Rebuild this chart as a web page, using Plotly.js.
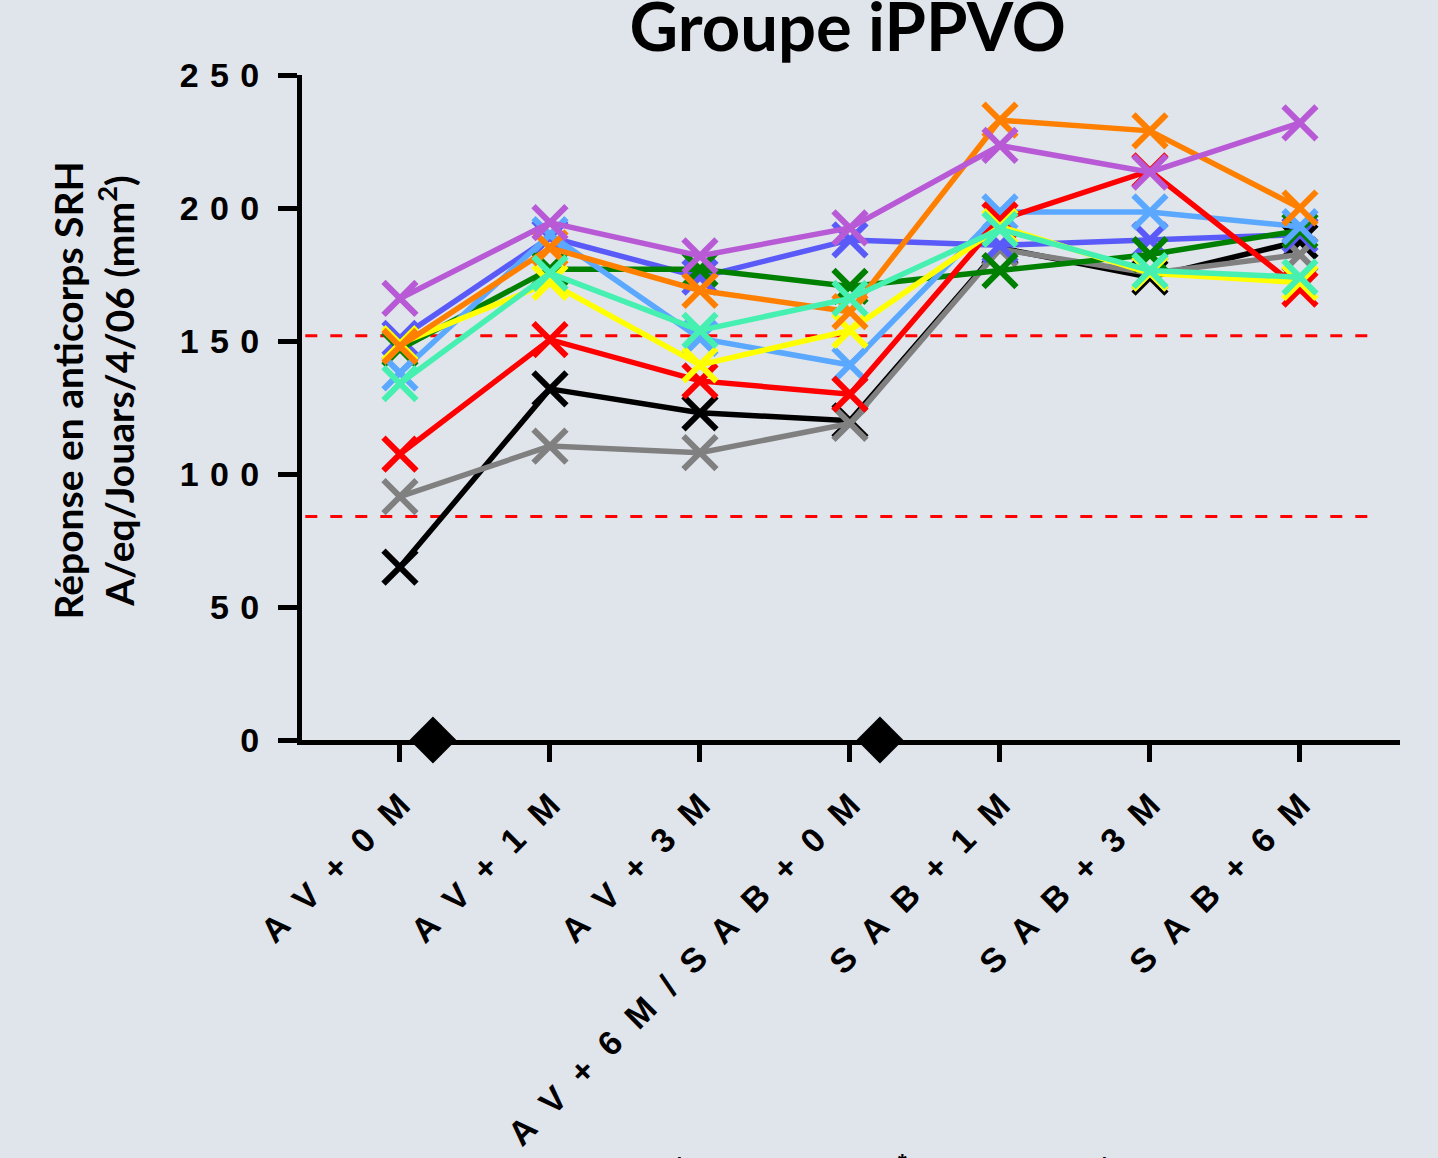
<!DOCTYPE html>
<html>
<head>
<meta charset="utf-8">
<script src="https://cdn.plot.ly/plotly-3.0.1.min.js"></script>
<style>html,body{margin:0;padding:0;background:#e0e4eb;}#chart{width:1438px;height:1158px;}</style>
</head>
<body>
<div id="chart"></div>
<script>
// ---- data ----
const categories = ['AV + 0M', 'AV + 1M', 'AV + 3M', 'AV + 6M / SAB + 0M', 'SAB + 1M', 'SAB + 3M', 'SAB + 6M'];
const yTickValues = [0, 50, 100, 150, 200, 250];
const yTickLabels = ['0', '50', '100', '150', '200', '250'];
const thresholds = [152, 84];
const diamondX = [0.22, 3.2];
const diamondY = [0, 0];

const seriesBlack     = [65, 132, 123, 120, 185, 174, 187.5];
const seriesGray      = [91.5, 110.5, 108, 119, 184.5, 175.5, 182.5];
const seriesBlue      = [151, 189, 174, 188, 186, 188, 190];
const seriesGreen     = [147, 177, 177, 170.5, 176.5, 182.5, 191.5];
const seriesLightBlue = [138, 190, 151, 141, 198.5, 198.5, 193];
const seriesRed       = [107.5, 150.5, 135, 130, 195.5, 214, 169.5];
const seriesYellow    = [149, 172, 141, 154, 193, 175.5, 172];
const seriesOrange    = [148, 185, 169, 161, 233, 229, 200];
const seriesPurple    = [166, 194.5, 182, 192.5, 223.5, 213.5, 232];
const seriesAqua      = [134, 175.5, 154, 166, 192, 176.5, 174];

const seriesList = [
  {y: seriesBlack, color: '#000000'},
  {y: seriesGray, color: '#808080'},
  {y: seriesBlue, color: '#5a5af8'},
  {y: seriesGreen, color: '#008000'},
  {y: seriesLightBlue, color: '#5aa8ff'},
  {y: seriesRed, color: '#ff0000'},
  {y: seriesYellow, color: '#ffff00'},
  {y: seriesOrange, color: '#ff8000'},
  {y: seriesPurple, color: '#b859d6'},
  {y: seriesAqua, color: '#45f0b0'}
];

// ---- build ----
const xIdx = categories.map((c, i) => i);
const spacedX = s => s.replace(/ /g, '').split('').join('\u2002\u200A');
const spacedY = s => s.split('').join('\u2004');

const traces = seriesList.map(s => ({
  type: 'scatter', mode: 'lines+markers',
  x: xIdx, y: s.y,
  line: {color: s.color, width: 5.5},
  marker: {symbol: 'x-thin', size: 33, color: s.color, line: {color: s.color, width: 6}},
  cliponaxis: false, showlegend: false, hoverinfo: 'skip'
}));

traces.push({
  type: 'scatter', mode: 'markers', x: diamondX, y: diamondY,
  marker: {symbol: 'diamond', size: 36, color: '#000000'},
  cliponaxis: false, showlegend: false, hoverinfo: 'skip'
});

const shapes = thresholds.map(t => ({
  type: 'line', xref: 'paper', yref: 'y', x0: 0.003, x1: 0.982, y0: t, y1: t,
  line: {color: '#ff0000', width: 3, dash: '12px,13px'}, layer: 'below'
}));

const layout = {
  width: 1438, height: 1158,
  paper_bgcolor: '#e0e4eb', plot_bgcolor: '#e0e4eb',
  margin: {l: 302, r: 38, t: 75, b: 418},
  title: {
    text: 'Groupe iPPVO', x: 0.497, xref: 'paper', y: 0.976, yref: 'container',
    xanchor: 'center', yanchor: 'middle',
    font: {family: 'Lato', size: 67, color: '#000000', weight: 'bold'}
  },
  xaxis: {
    range: [-0.653, 6.667], tickmode: 'array', tickvals: xIdx,
    ticktext: categories.map(spacedX), tickangle: -45,
    tickfont: {family: 'Liberation Sans', size: 34, color: '#000000', weight: 'bold'},
    ticks: 'outside', ticklen: 17, tickwidth: 5, tickcolor: '#000000',
    showline: true, linewidth: 5, linecolor: '#000000',
    showgrid: false, zeroline: false, ticklabelstandoff: 10
  },
  yaxis: {
    range: [0, 250], tickmode: 'array', tickvals: yTickValues,
    ticktext: yTickLabels.map(spacedY),
    tickfont: {family: 'Liberation Sans', size: 34, color: '#000000', weight: 'bold'},
    ticks: 'outside', ticklen: 19, tickwidth: 5, tickcolor: '#000000',
    showline: true, linewidth: 5, linecolor: '#000000',
    showgrid: false, zeroline: false, ticklabelstandoff: 12
  },
  shapes: shapes,
  annotations: [
    {
      text: 'Réponse en anticorps SRH<br>A/eq/Jouars/4/06 (mm<sup>2</sup>)',
      xref: 'paper', yref: 'paper', x: -0.19, y: 0.526,
      xanchor: 'center', yanchor: 'middle', textangle: -90, showarrow: false,
      font: {family: 'Lato', size: 39, color: '#000000', weight: 'bold'}
    },
    {text: '*', xref: 'paper', yref: 'paper', x: 0.547, y: -0.612, xanchor: 'center', yanchor: 'top',
     showarrow: false, font: {family: 'Liberation Sans', size: 22, color: '#000000', weight: 'bold'}},
    {text: "'", xref: 'paper', yref: 'paper', x: 0.344, y: -0.618, xanchor: 'center', yanchor: 'top',
     showarrow: false, font: {family: 'Liberation Sans', size: 20, color: '#000000', weight: 'bold'}},
    {text: "'", xref: 'paper', yref: 'paper', x: 0.731, y: -0.618, xanchor: 'center', yanchor: 'top',
     showarrow: false, font: {family: 'Liberation Sans', size: 20, color: '#000000', weight: 'bold'}}
  ]
};

Plotly.newPlot('chart', traces, layout, {staticPlot: true, displayModeBar: false});
</script>
</body>
</html>
